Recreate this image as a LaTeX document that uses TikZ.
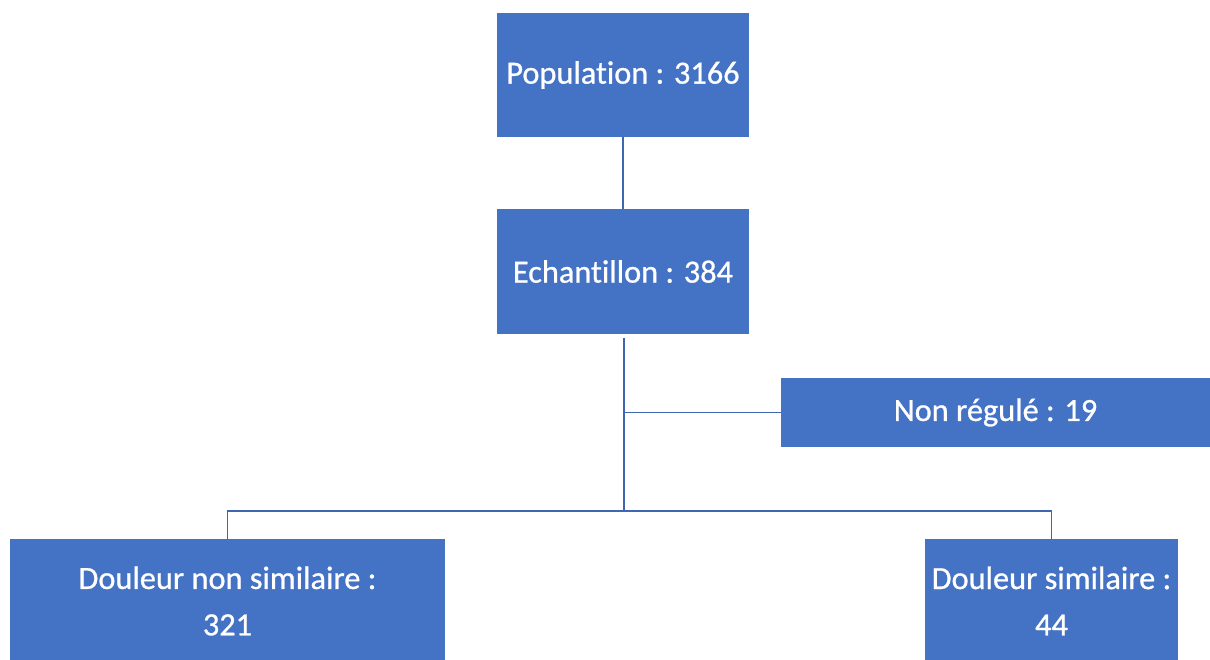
\documentclass[tikz,border=0pt]{standalone}
\usepackage{fontspec}
\setmainfont{Carlito}[RawFeature=-liga,FakeBold=0.8]
\usepackage{tikz}
\usetikzlibrary{calc}
\definecolor{officeblue}{HTML}{4472C4}
\definecolor{linkblue}{HTML}{3F66B0}
\tikzstyle{box}=[rectangle,fill=officeblue,text=white,inner sep=0pt,align=center,font=\fontsize{23}{33}\selectfont]
\tikzstyle{link} = [draw,linkblue,line width=1.2pt]

\begin{document}
\begin{tikzpicture}[x=0.025cm, y=-0.025cm]
    \useasboundingbox (0,0) rectangle (1210,659);

    % boxes of the flow chart
    \foreach \pos/ \name/ \w/ \h/ \txt in {{(623,75)/pop/6.3cm/3.1cm/Population : 3166},
        {(623,271.5)/ech/6.3cm/3.125cm/Echantillon : 384},
        {(995.5,412.5)/nr/10.725cm/1.725cm/Non régulé : 19},
        {(227.5,601)/dns/10.875cm/3.1cm/Douleur non similaire :\\321},
        {(1051.5,601)/ds/6.325cm/3.1cm/Douleur similaire :\\44}}
        \node[box,minimum width=\w,minimum height=\h] (\name) at \pos {\txt};

    \coordinate (branch) at (624,412.5);
    \coordinate (fork) at (624,511);

    % connectors
    \path[link] (pop) -- (ech);
    \path[link] ($(ech.south -| fork)+(0,4)$) -- (fork);
    \path[link] (branch) -- (nr.west);
    \path[link] (fork) -| (dns.north);
    \path[link] (fork) -| (ds.north);

\end{tikzpicture}
\end{document}
